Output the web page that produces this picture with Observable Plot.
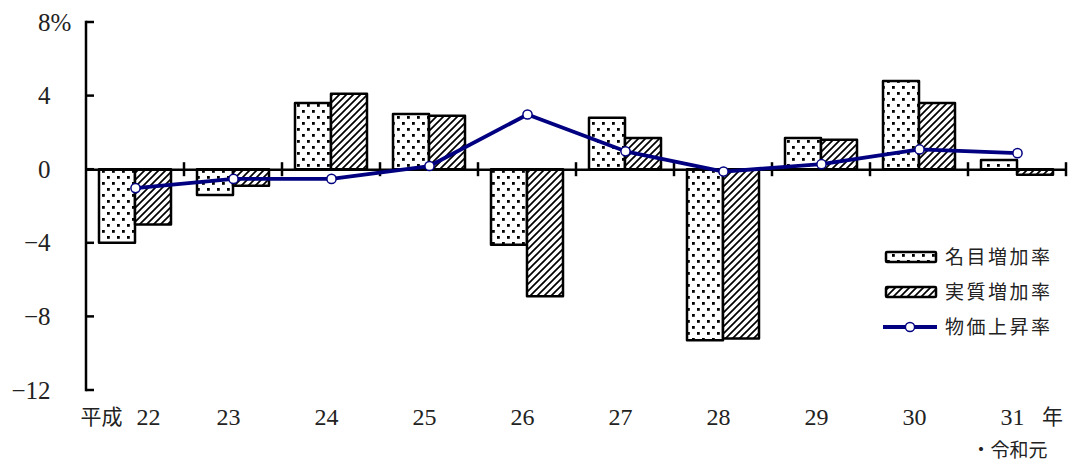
<!DOCTYPE html>
<html><head><meta charset="utf-8">
<script src="https://cdn.jsdelivr.net/npm/d3@7"></script>
<script src="https://cdn.jsdelivr.net/npm/@observablehq/plot@0.6"></script>
<style>body{margin:0;background:#fff} #chart svg{display:block}</style>
</head><body><div id="chart"></div>
<script>
const years = ["22","23","24","25","26","27","28","29","30","31"];
const nominal = [-4.0,-1.4,3.6,3.0,-4.1,2.8,-9.3,1.7,4.8,0.5];
const real = [-3.0,-0.9,4.1,2.9,-6.9,1.7,-9.2,1.6,3.6,-0.3];
const prices = [-1.0,-0.5,-0.5,0.2,3.0,1.0,-0.1,0.3,1.1,0.9];
const yTicks = [-12,-8,-4,0,4,8];
const seriesNames = ["名目増加率","実質増加率","物価上昇率"];
const eraPrefix = "平成";
const yearSuffix = "年";
const eraNote = "・令和元";

const rows = years.map((year, i) => ({year, nominal: nominal[i], real: real[i], price: prices[i]}));
const NAVY = "#000080";
const SERIF = "'Liberation Serif', 'DejaVu Serif', serif";
const CJK = "'Noto Sans CJK JP', sans-serif";
const NUM_SIZE = 24;
const fmt = d => d < 0 ? "\u2212" + (-d) : String(d);

function axesMark(index, scales, values, dimensions) {
  const g = d3.create("svg:g").attr("stroke", "#000").attr("fill", "none");
  const x = scales.x, y = scales.y;
  const left = dimensions.marginLeft;
  g.append("line").attr("x1", left).attr("x2", left)
    .attr("y1", y(yTicks[yTicks.length - 1])).attr("y2", y(yTicks[0]))
    .attr("stroke-width", 2.5).attr("stroke-linecap", "square");
  for (const t of yTicks) {
    g.append("line").attr("x1", left).attr("x2", left + 8)
      .attr("y1", y(t)).attr("y2", y(t)).attr("stroke-width", 2.5);
  }
  const bw = x.bandwidth();
  const bounds = years.slice(1).map(d => x(d)).concat([x(years[years.length - 1]) + bw]);
  for (const bx of bounds) {
    g.append("line").attr("x1", bx).attr("x2", bx)
      .attr("y1", y(0) - 7).attr("y2", y(0) + 7).attr("stroke-width", 2.5);
  }
  return g.node();
}

const chart = Plot.plot({
  width: 1070,
  height: 463,
  marginLeft: 86,
  marginRight: 4,
  marginTop: 22,
  marginBottom: 73,
  style: {fontFamily: SERIF, color: "#222", background: "#fff"},
  x: {domain: years, padding: 0, axis: null},
  y: {domain: [yTicks[0], yTicks[yTicks.length - 1]], axis: null},
  marks: [
    Plot.barY(rows, {x: "year", y: "nominal", fill: "url(#pat-dots)", stroke: "#000", strokeWidth: 2.5, strokeLinejoin: "round", insetLeft: 13, insetRight: 49}),
    Plot.barY(rows, {x: "year", y: "real", fill: "url(#pat-hatch)", stroke: "#000", strokeWidth: 2.5, strokeLinejoin: "round", insetLeft: 49, insetRight: 13}),
    Plot.ruleY([0], {stroke: "#000", strokeWidth: 2.5}),
    axesMark,
    Plot.text(yTicks, {y: d => d, text: fmt, frameAnchor: "left", dx: -36, textAnchor: "end", fontSize: 25, fontFamily: SERIF, fill: "#222"}),
    Plot.text([yTicks[yTicks.length - 1]], {y: d => d, text: () => "%", frameAnchor: "left", dx: -36, textAnchor: "start", fontSize: 25, fontFamily: SERIF, fill: "#222"}),
    Plot.line(rows, {x: "year", y: "price", stroke: NAVY, strokeWidth: 3.8}),
    Plot.dot(rows, {x: "year", y: "price", r: 4.6, fill: "#fff", stroke: NAVY, strokeWidth: 1.5}),
    Plot.text(rows.slice(1), {x: "year", text: "year", frameAnchor: "bottom", dy: 34, dx: -5, fontSize: NUM_SIZE, fontFamily: SERIF, fill: "#222"}),
    Plot.text(rows.slice(0, 1), {x: "year", text: "year", frameAnchor: "bottom", dy: 34, dx: 13, fontSize: NUM_SIZE, fontFamily: SERIF, fill: "#222"}),
    Plot.text(rows.slice(0, 1), {x: "year", text: () => eraPrefix, frameAnchor: "bottom", dy: 33, dx: -13, textAnchor: "end", fontSize: 21, fontFamily: CJK, fill: "#222"}),
    Plot.text(rows.slice(-1), {x: "year", text: () => yearSuffix, frameAnchor: "bottom", dy: 33, dx: 35, fontSize: 21, fontFamily: CJK, fill: "#222"}),
    Plot.text(rows.slice(-1), {x: "year", text: () => eraNote, frameAnchor: "bottom", dy: 66, dx: -8, fontSize: 19, fontFamily: CJK, fill: "#222"})
  ]
});

const svg = d3.select(chart);
const defs = svg.insert("defs", ":first-child");
const pd = defs.append("pattern").attr("id", "pat-dots").attr("patternUnits", "userSpaceOnUse")
  .attr("width", 10).attr("height", 12);
pd.append("rect").attr("width", 10).attr("height", 12).attr("fill", "#fff");
pd.append("rect").attr("x", 2).attr("y", 2).attr("width", 2.8).attr("height", 2.8).attr("fill", "#000");
pd.append("rect").attr("x", 7).attr("y", 8).attr("width", 2.8).attr("height", 2.8).attr("fill", "#000");
const ph = defs.append("pattern").attr("id", "pat-hatch").attr("patternUnits", "userSpaceOnUse")
  .attr("width", 7).attr("height", 7);
ph.append("rect").attr("width", 7).attr("height", 7).attr("fill", "#fff");
ph.append("path").attr("d", "M0,7 L7,0 M-1,1 L1,-1 M6,8 L8,6").attr("stroke", "#000").attr("stroke-width", 1.7);

// legend
const lg = svg.append("g").attr("font-family", CJK).attr("font-size", 19).attr("fill", "#222")
  .attr("text-anchor", "start");
const rowsY = [257, 292, 327];
const fills = ["url(#pat-dots)", "url(#pat-hatch)"];
for (let i = 0; i < 2; i++) {
  lg.append("rect").attr("x", 886).attr("y", rowsY[i] - 5).attr("width", 50).attr("height", 10)
    .attr("fill", fills[i]).attr("stroke", "#000").attr("stroke-width", 2.5).attr("rx", 1);
}
lg.append("line").attr("x1", 883).attr("x2", 937).attr("y1", rowsY[2]).attr("y2", rowsY[2])
  .attr("stroke", NAVY).attr("stroke-width", 3.8);
lg.append("circle").attr("cx", 910).attr("cy", rowsY[2]).attr("r", 4.6)
  .attr("fill", "#fff").attr("stroke", NAVY).attr("stroke-width", 1.5);
seriesNames.forEach((name, i) => {
  lg.append("text").attr("x", 945).attr("y", rowsY[i]).attr("dy", "0.35em")
    .attr("text-anchor", "start").attr("letter-spacing", 2.5).text(name);
});

document.getElementById("chart").appendChild(chart);
</script>
</body></html>
